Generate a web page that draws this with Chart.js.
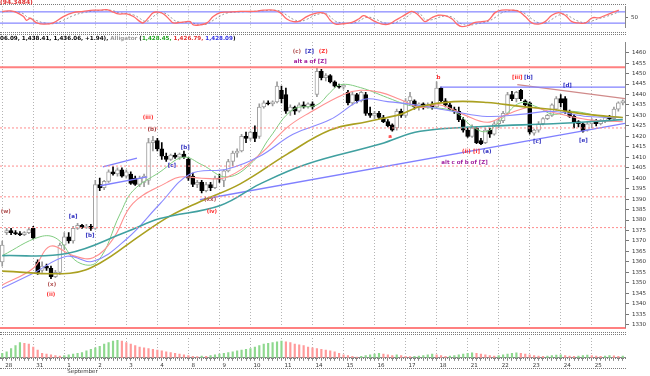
<!DOCTYPE html>
<html lang="en">
<head>
<meta charset="UTF-8">
<title>Chart</title>
<script src="https://cdn.jsdelivr.net/npm/chart.js"></script>
<style>
  body { margin: 0; background: #fff; }
  #wrap { position: relative; width: 650px; height: 376px; overflow: hidden; font-family: "DejaVu Sans", sans-serif; }
  .panel { position: absolute; left: 0; width: 650px; }
  .line { position: absolute; left: 0; width: 626px; height: 0; border-top: 1px dotted #7a7a7a; }
  .txt { position: absolute; font-weight: bold; white-space: nowrap; }
</style>
</head>
<body>
<div id="wrap">
  <div class="panel" style="top:0;height:34px"><canvas id="osc"></canvas></div>
  <div class="panel" style="top:34px;height:300px"><canvas id="price"></canvas></div>
  <div class="panel" style="top:336px;height:40px"><canvas id="hist"></canvas></div>

  <div class="line" style="top:4px"></div>
  <div class="line" style="top:32px"></div>
  <div class="line" style="top:34px"></div>
  <div class="line" style="top:332px"></div>
  <div class="line" style="top:334px"></div>
  <div class="line" style="top:358px"></div>
  <div class="line" style="top:368px"></div>

  <div class="txt" style="top:-2px;left:0;font-size:6px;color:#e03030">(94.3484)</div>
  <div class="txt" style="top:35px;left:0;font-size:5.6px;color:#000">06.09, 1,438.41, 1,436.06, +1.94), <span style="color:#9a9a9a">Alligator</span> (<span style="color:#20a020">1,428.45,</span> <span style="color:#e03030">1,426.79,</span> <span style="color:#3030e0">1,428.09</span>)</div>
</div>
<script>
  // candle index runs 0..140, seven hourly bars to a day
  const dayLabels = ['28', '31', '1', '2', '3', '4', '8', '9', '10', '11', '14', '15', '16', '17', '18', '21', '22', '23', '24', '25'];
  const dayStarts = [0, 7, 14, 21, 28, 35, 42, 49, 56, 63, 70, 77, 84, 91, 98, 105, 112, 119, 126, 133];
  const yTickValues = [1330, 1335, 1340, 1345, 1350, 1355, 1360, 1365, 1370, 1375, 1380, 1385, 1390, 1395,
    1400, 1405, 1410, 1415, 1420, 1425, 1430, 1435, 1440, 1445, 1450, 1455, 1460];

  const opens = [
    1360, 1374, 1375, 1374, 1373.5, 1373, 1374, 1376, 1360, 1356,
    1358, 1357, 1353, 1355, 1368, 1372, 1370, 1376, 1377.5, 1376.5,
    1377, 1376, 1397, 1395.5, 1398.5, 1403, 1402, 1404, 1401, 1402,
    1400, 1397, 1398, 1399, 1417, 1418, 1414, 1410.5, 1409, 1411,
    1410, 1411.5, 1409, 1401, 1397, 1398, 1394, 1397, 1395.5, 1400,
    1399, 1403.5, 1408, 1412, 1413, 1420, 1419, 1422, 1420, 1434,
    1436, 1435.5, 1436.5, 1442, 1440, 1432, 1434, 1432, 1435, 1434,
    1435.5, 1440, 1451, 1448, 1449, 1446, 1444, 1443.5, 1441, 1436,
    1440, 1437, 1440, 1431, 1430, 1431, 1429, 1427, 1425.5, 1424,
    1432, 1430, 1437, 1437, 1434, 1435.5, 1434, 1435, 1434, 1443,
    1437, 1435, 1433, 1432, 1428, 1423, 1420, 1424, 1418, 1417,
    1423, 1421, 1426, 1427.5, 1431, 1440, 1438, 1442, 1437, 1436,
    1421.5, 1423, 1426, 1428.5, 1430, 1433, 1438, 1438, 1432, 1429.5,
    1427, 1426, 1423, 1426, 1427.5, 1426, 1427.5, 1429, 1428.5, 1433,
    1436];
  const highs = [
    1370, 1376, 1376, 1375, 1374.5, 1374.5, 1376, 1377, 1361, 1360,
    1359, 1358, 1356, 1369, 1374, 1374, 1377, 1378.5, 1378, 1378,
    1378, 1399, 1400, 1399, 1404, 1405.5, 1405, 1405, 1404, 1403,
    1401, 1401, 1402, 1419, 1420, 1419, 1417, 1412, 1411.5, 1412,
    1412, 1413, 1410, 1402.5, 1399, 1399, 1398, 1398, 1401, 1402,
    1404, 1409, 1413, 1414, 1421, 1422, 1422.5, 1425, 1435.5, 1437,
    1437, 1437, 1446, 1444, 1443, 1435, 1434.5, 1436, 1436.5, 1436,
    1436.5, 1453, 1452, 1450, 1449.5, 1446.5, 1445, 1445, 1442, 1441,
    1440.5, 1441.5, 1441, 1434, 1432, 1432, 1430, 1428, 1426, 1433,
    1433, 1438, 1441, 1437.5, 1436, 1436, 1436, 1436.5, 1446, 1443.5,
    1438, 1436, 1434, 1434, 1429, 1424, 1425.5, 1424.5, 1419, 1424,
    1424, 1427, 1428.5, 1432, 1441, 1441.5, 1441.5, 1442.5, 1437.5, 1436.5,
    1423.5, 1427, 1429, 1430.5, 1435.5, 1439, 1440, 1439, 1432.5, 1430.5,
    1427.5, 1426.5, 1427, 1428.5, 1428, 1428, 1429.5, 1430, 1434, 1436.5,
    1437.5];
  const lows = [
    1358, 1373, 1373, 1373, 1372.5, 1372.5, 1373.5, 1371, 1354, 1355,
    1356, 1352, 1352.5, 1354, 1366, 1369, 1369, 1375.5, 1376, 1376,
    1375, 1375.5, 1394, 1394.5, 1398, 1401.5, 1401, 1400.5, 1400, 1397,
    1396.5, 1396, 1396, 1397, 1413, 1413, 1409, 1408, 1408.5, 1409.5,
    1409, 1409.5, 1399, 1396, 1395.5, 1393, 1393.5, 1394, 1395, 1398,
    1396, 1403, 1406, 1410, 1412.5, 1417, 1418, 1417.5, 1419, 1433.5,
    1435, 1434.5, 1436, 1436, 1431, 1430, 1430.5, 1431.5, 1433.5, 1433.5,
    1433, 1439, 1447, 1446.5, 1445.5, 1443.5, 1443, 1442.5, 1435, 1435,
    1436, 1436.5, 1430, 1429, 1428.5, 1428.5, 1426.5, 1424.5, 1422.5, 1423,
    1429, 1429, 1435, 1433, 1432.5, 1433, 1433.5, 1433, 1433.5, 1436.5,
    1434, 1432.5, 1431, 1427, 1422, 1419.5, 1419.5, 1416.5, 1416, 1416.5,
    1419.5, 1420.5, 1424, 1426.5, 1430.5, 1437, 1436.5, 1437, 1434, 1421,
    1420.5, 1422, 1425.5, 1428, 1429.5, 1432.5, 1434, 1431, 1429, 1424,
    1424.5, 1422, 1422.5, 1424, 1425, 1425.5, 1426.5, 1427.5, 1428, 1432,
    1435];
  const closes = [
    1368, 1375, 1374, 1373.5, 1373, 1374, 1375.5, 1371.5, 1355, 1358,
    1357, 1353, 1355, 1368, 1372, 1370, 1376, 1377.5, 1376.5, 1377,
    1376, 1397, 1395.5, 1398.5, 1403, 1402, 1404, 1401, 1403, 1397.5,
    1397, 1400, 1401, 1417, 1418, 1414, 1410.5, 1409, 1411, 1410,
    1411.5, 1410, 1400, 1397, 1398, 1394, 1397, 1395.5, 1400, 1399.5,
    1403.5, 1408, 1412, 1413, 1420, 1419, 1422, 1419, 1434, 1436,
    1435.5, 1436.5, 1444, 1438, 1432, 1434, 1432, 1435, 1434, 1435.5,
    1434, 1451, 1448, 1449, 1446, 1444, 1443.5, 1444.5, 1436, 1440,
    1437, 1441, 1431, 1430, 1431, 1429, 1427, 1425, 1423, 1432,
    1430, 1437, 1439, 1434, 1435.5, 1434, 1435, 1434, 1443, 1437,
    1435, 1433, 1432, 1428, 1423, 1420, 1424, 1417, 1416.5, 1423,
    1421, 1426, 1427.5, 1431, 1440, 1438, 1441, 1438, 1435, 1422,
    1423, 1426, 1428.5, 1430, 1435, 1438, 1436, 1432, 1429.5, 1427,
    1426, 1422.5, 1426, 1427.5, 1426, 1427.5, 1429, 1428.5, 1433, 1436,
    1437];

  // moving averages as [bar, price]
  const greenMA = [[0, 1363], [8.5, 1372], [12.4, 1371], [17, 1360], [21.4, 1360], [26.6, 1383], [29.5, 1394],
    [35.6, 1403], [40.8, 1410], [45, 1406.5], [50.8, 1400.6], [56.6, 1408], [60.4, 1419.5], [65.6, 1432.8],
    [71, 1435], [74, 1441], [76.3, 1444.7], [80.8, 1443.3], [86.9, 1438.5], [91.4, 1435], [94.3, 1434],
    [101.8, 1432], [106.3, 1424.3], [109.4, 1422.4], [113, 1429], [116.9, 1436], [120.7, 1434],
    [124.3, 1430.5], [128.2, 1432], [135.6, 1429.5], [140, 1429]];
  const redMA = [[0, 1349], [7, 1357], [10.8, 1367.5], [16, 1363], [20.5, 1362], [25, 1371], [29.5, 1388],
    [37.2, 1398], [40.1, 1400.6], [45, 1400], [50.8, 1400.6], [58.2, 1411.5], [64.3, 1424.3], [69.5, 1431.5],
    [77, 1440], [80.8, 1442], [85.3, 1441], [89.8, 1437.6], [94.3, 1433.8], [98.8, 1435], [104, 1430.5],
    [109.4, 1426.7], [113.9, 1430.5], [119, 1433.8], [124.3, 1431.4], [132, 1428], [140, 1427]];
  const blueMA = [[0, 1347.5], [7, 1354.6], [14.6, 1362.7], [20.5, 1360.3], [28.2, 1371.2], [35.6, 1387.8],
    [42.4, 1402], [50.8, 1404.4], [58.2, 1410.6], [65.6, 1421], [74, 1428], [81.4, 1437.6], [86.9, 1436.6],
    [92.7, 1435.2], [101.8, 1431.9], [109.4, 1429.5], [116.9, 1430.5], [124.3, 1431.9], [132, 1429.5], [140, 1429]];
  const oliveMA = [[0, 1355.6], [15.3, 1354.6], [22, 1359.4], [31.1, 1372.6], [37.9, 1382], [44.6, 1388.8],
    [53.7, 1397.3], [64.3, 1411.5], [74, 1423], [82.3, 1427], [89.8, 1430.5], [94.3, 1434.3], [101.8, 1436.6],
    [109.4, 1436.2], [116.9, 1434.3], [124.3, 1432.8], [132, 1430.5], [140, 1429]];
  const tealMA = [[0, 1363], [14.6, 1364], [28.2, 1374.5], [35.6, 1380.7], [49.2, 1387], [58.2, 1397.3],
    [68.8, 1406.8], [85.3, 1416.3], [94.3, 1422.4], [109.4, 1424.8], [124.3, 1426], [140, 1428]];

  // drawn lines
  const trendLine = [[44.6, 1389.7], [140.5, 1426.2]];
  const channelTop = [[22.7, 1405.4], [30.4, 1409.6]];
  const channelBottom = [[22.1, 1396.4], [32.7, 1400.6]];
  const topLine = [[98.8, 1443.5], [140.5, 1443.5]];
  const fallingLine = [[116.2, 1444.7], [140.5, 1438]];
  const redLevel = 1453;
  const dashedLevels = [1424, 1405.8, 1391.1, 1376.4];

  const waveLabels = [
    { t: '(c)', c: '#b05050', i: 66.5, v: 1460.3 },
    { t: '[Z]', c: '#3030c0', i: 69.3, v: 1460.3 },
    { t: '(Z)', c: '#ff3030', i: 72.4, v: 1460.3 },
    { t: 'alt a of [Z]', c: '#a020a0', i: 69.5, v: 1455.6 },
    { t: '(iii)', c: '#ff3030', i: 32.9, v: 1429 },
    { t: '(b)', c: '#a04040', i: 33.8, v: 1423.4 },
    { t: '[b]', c: '#3030c0', i: 41.3, v: 1414.8 },
    { t: '[c]', c: '#3030c0', i: 38.3, v: 1405.8 },
    { t: '(xx)', c: '#b05050', i: 46.9, v: 1389.8 },
    { t: '(iv)', c: '#ff3030', i: 47.3, v: 1384.2 },
    { t: '(w)', c: '#b05050', i: 0.8, v: 1384 },
    { t: '[a]', c: '#3030c0', i: 16, v: 1381.7 },
    { t: '[b]', c: '#3030c0', i: 19.8, v: 1372.7 },
    { t: '(x)', c: '#b05050', i: 11.2, v: 1349 },
    { t: '(ii)', c: '#ff3030', i: 11, v: 1344.2 },
    { t: 'a', c: '#ff3030', i: 87.5, v: 1420 },
    { t: 'b', c: '#ff3030', i: 98.4, v: 1448 },
    { t: '(ii)', c: '#ff3030', i: 104.7, v: 1412.5 },
    { t: '[i]', c: '#ff3030', i: 107, v: 1412.5 },
    { t: '(a)', c: '#3030c0', i: 109.4, v: 1412.5 },
    { t: 'alt c of b of [Z]', c: '#a020a0', i: 104.3, v: 1407.3 },
    { t: '[iii]', c: '#ff3030', i: 116.2, v: 1448 },
    { t: '[b]', c: '#3030c0', i: 118.7, v: 1448 },
    { t: '[d]', c: '#3030c0', i: 127.5, v: 1444.2 },
    { t: '[c]', c: '#3030c0', i: 120.7, v: 1417.7 },
    { t: '[e]', c: '#3030c0', i: 131.1, v: 1418.2 }
  ];

  // stochastic, read as bar position / value
  const oscPos = [0, 1.8, 3.3, 4.8, 5.5, 6.3, 7.0, 7.8, 9.3, 11.5, 13.8, 16.0, 18.3, 20.6, 22.1, 23.6, 25.1, 26.2,
    28.1, 29.6, 31.1, 31.8, 33.0, 34.1, 35.2, 36.4, 37.9, 38.6, 40.1, 41.6, 42.4, 43.1, 44.6, 46.2, 47.6, 49.2,
    50.7, 53.7, 56.7, 58.9, 61.2, 62.7, 64.2, 65.7, 67.2, 68.7, 70.2, 71.7, 72.9, 74.0, 75.2, 77.4, 78.9, 80.4,
    81.5, 82.6, 84.2, 85.7, 87.2, 88.7, 90.2, 91.7, 92.4, 93.6, 94.7, 95.4, 96.9, 98.4, 99.9, 101.5, 102.6, 103.7,
    105.2, 106.7, 108.2, 109.7, 111.2, 112.7, 115, 116.5, 118, 119.5, 121, 122.5, 124, 125.5, 127, 128.5, 130,
    131.6, 133.1, 134.6, 136.1, 137.6, 139.1];
  const oscK = [82.5, 85, 76, 55, 35, 46, 35, 21, 14.5, 21, 55, 76, 82.5, 89, 89, 92, 78.5, 69, 69, 55, 28, 21,
    48.5, 76, 78.5, 69, 35, 21, 24, 28, 28, 10.5, 10.5, 21, 55, 76, 78.5, 82.5, 82.5, 89, 89, 76, 42, 28, 32, 55,
    69, 76, 69, 35, 14.5, 18, 24, 42, 59.5, 48.5, 28, 14.5, 14.5, 35, 55, 76, 82.5, 69, 42, 28, 48.5, 62, 59.5,
    42, 14.5, 1, 8, 24, 28, 35, 76, 89, 89, 82.5, 55, 21, 14.5, 28, 62, 76, 62, 28, 21, 21, 48.5, 48.5, 62, 76, 89];
  const oscD = [80, 83, 81, 70, 55, 45, 40, 33, 22, 17, 35, 60, 76, 84, 88, 90, 86, 76, 70, 64, 45, 32, 32, 55,
    72, 75, 55, 38, 25, 25, 27, 20, 13, 15, 35, 58, 74, 80, 83, 86, 89, 84, 62, 40, 30, 40, 58, 70, 72, 55, 30,
    20, 20, 30, 45, 52, 42, 25, 18, 22, 40, 60, 74, 76, 60, 40, 38, 50, 58, 52, 32, 15, 8, 14, 22, 30, 50, 75,
    88, 86, 70, 42, 22, 20, 40, 62, 68, 48, 30, 22, 32, 44, 54, 66, 80];

  // lower histogram, one bar per candle
  const histValues = [
    3, 4, 6, 8, 10, 9.5, 9, 7, 5, 3,
    2.5, 2, 1.5, 1.2, 1.5, 2, 2.5, 3, 3.5, 4.5,
    5.5, 6.5, 7.5, 9, 10, 11, 11.5, 11, 10, 9,
    8, 7, 6.5, 6, 5.5, 5, 4.5, 4, 3.5, 3,
    2.5, 2, 1.5, 1, 0.8, 1.2, 1, 1.5, 2, 2.5,
    3, 3.5, 4, 4.5, 5, 5.5, 6, 7, 8, 9,
    9.5, 10, 10.5, 11, 10.5, 10, 9, 8.5, 8, 7,
    6.5, 6, 5.5, 5, 4.5, 4, 3, 2, 1.5, 1,
    0.5, 1, 1.5, 2, 2.5, 3, 2.5, 2, 1.5, 2,
    1.5, 1, 0.8, 1, 1.2, 1.5, 2, 2.5, 2, 1.5,
    1, 1.2, 1.5, 2, 2.5, 3, 3.2, 3, 2.5, 2,
    1.5, 1.2, 1.5, 2, 2.5, 3, 3.2, 3, 2.5, 2,
    1.5, 1.2, 1, 1.2, 1.5, 1.8, 2, 1.5, 1.2, 1,
    1.2, 1.5, 1.8, 1.5, 1.2, 1, 1.2, 1.5, 1.3, 1,
    1.2];

  Chart.defaults.font.family = 'DejaVu Sans';
  Chart.defaults.animation = false;
  Chart.defaults.plugins.legend.display = false;
  Chart.defaults.plugins.tooltip.enabled = false;

  const pts = arr => arr.map(p => ({ x: p[0], y: p[1] }));
  const flat = v => [{ x: -0.5, y: v }, { x: 140.5, y: v }];
  const isUp = i => closes[i] >= opens[i];

  const waveText = {
    id: 'waveText',
    afterDatasetsDraw(chart, args, opts) {
      if (!opts.items) return;
      const { ctx, scales: { x, y } } = chart;
      ctx.save();
      ctx.font = 'bold 5.5px "DejaVu Sans"';
      ctx.textAlign = 'center';
      ctx.textBaseline = 'middle';
      opts.items.forEach(l => {
        ctx.fillStyle = l.c;
        ctx.fillText(l.t, x.getPixelForValue(l.i), y.getPixelForValue(l.v));
      });
      ctx.restore();
    }
  };

  const lineSet = (data, color, width, extra) => Object.assign({
    type: 'line', data: data, borderColor: color, borderWidth: width, pointRadius: 0, tension: 0.4, order: 1
  }, extra || {});

  const xBase = {
    type: 'linear', min: -0.5, max: 140.5, offset: false,
    afterBuildTicks: s => { s.ticks = dayStarts.map(v => ({ value: v })); },
    ticks: { display: false },
    grid: { offset: false, color: '#b4b4b4', drawTicks: false, tickLength: 0 },
    border: { display: false, dash: [1, 2] }
  };

  // oscillator panel
  new Chart(document.getElementById('osc'), {
    type: 'line',
    data: {
      datasets: [
        lineSet(flat(80), '#6a6aff', 1, { tension: 0 }),
        lineSet(flat(20), '#6a6aff', 1, { tension: 0 }),
        lineSet(oscPos.map((p, k) => ({ x: p, y: oscD[k] })), '#9a9a9a', 1, { borderDash: [2, 2] }),
        lineSet(oscPos.map((p, k) => ({ x: p, y: oscK[k] })), '#ff6a6a', 1.3, { order: 0 })
      ]
    },
    options: {
      responsive: true, maintainAspectRatio: false,
      layout: { padding: { top: 5, bottom: 1 } },
      scales: {
        x: xBase,
        y: {
          position: 'right', min: -4.5, max: 109.8,
          afterBuildTicks: s => { s.ticks = [{ value: 50 }]; },
          afterFit: s => { s.width = 25; },
          ticks: { font: { size: 5.5 }, color: '#333', padding: 3, callback: v => String(v) },
          grid: { drawOnChartArea: false, tickLength: 3, color: '#777' },
          border: { color: '#888' }
        }
      }
    }
  });

  // price panel
  const idx = opens.map((_, i) => i);
  new Chart(document.getElementById('price'), {
    type: 'bar',
    data: {
      datasets: [
        {
          data: idx.map(i => ({ x: i, y: [lows[i], highs[i]] })),
          barThickness: 1, grouped: false, order: 6,
          backgroundColor: c => isUp(c.dataIndex) ? '#9a9a9a' : '#000'
        },
        {
          data: idx.map(i => ({ x: i, y: [Math.min(opens[i], closes[i]), Math.max(opens[i], closes[i])] })),
          barThickness: 4, grouped: false, order: 5, borderSkipped: false, borderWidth: 1,
          backgroundColor: c => isUp(c.dataIndex) ? '#fff' : '#000',
          borderColor: c => isUp(c.dataIndex) ? '#a0a0a0' : '#000'
        },
        lineSet(flat(redLevel), '#ff8080', 2, { tension: 0 }),
        ...dashedLevels.map(v => lineSet(flat(v), '#ff8c8c', 1, { tension: 0, borderDash: [2, 2] })),
        lineSet(pts(tealMA), '#40a0a0', 1.6),
        lineSet(pts(oliveMA), '#aaa020', 1.6),
        lineSet(pts(blueMA), '#8a8aff', 1.1),
        lineSet(pts(redMA), '#ff9090', 1.1),
        lineSet(pts(greenMA), '#80cc80', 1),
        lineSet(pts(trendLine), '#8080ff', 1.3, { tension: 0 }),
        lineSet(pts(channelTop), '#8080ff', 1.3, { tension: 0 }),
        lineSet(pts(channelBottom), '#8080ff', 1.3, { tension: 0 }),
        lineSet(pts(topLine), '#8080ff', 1.3, { tension: 0 }),
        lineSet(pts(fallingLine), '#d08a8a', 1.3, { tension: 0 })
      ]
    },
    options: {
      responsive: true, maintainAspectRatio: false,
      layout: { padding: { top: 8, bottom: 3 } },
      plugins: { waveText: { items: waveLabels } },
      scales: {
        x: Object.assign({}, xBase, { border: { display: true, color: '#ff8080', width: 2, dash: [1, 2] } }),
        y: {
          position: 'right', min: 1328.58, max: 1465.07,
          afterBuildTicks: s => { s.ticks = yTickValues.map(v => ({ value: v })); },
          afterFit: s => { s.width = 25; },
          ticks: { font: { size: 5.5 }, color: '#333', padding: 3, autoSkip: false, callback: v => String(v) },
          grid: { drawOnChartArea: false, tickLength: 4, color: '#777' },
          border: { color: '#888' }
        }
      }
    },
    plugins: [waveText]
  });

  // histogram panel with the date axis
  new Chart(document.getElementById('hist'), {
    type: 'bar',
    data: {
      datasets: [{
        data: histValues.map((v, i) => ({ x: i, y: v })),
        barThickness: 1.5,
        backgroundColor: c => (c.dataIndex === 0 || histValues[c.dataIndex] >= histValues[c.dataIndex - 1]) ? '#8ed88e' : '#ff9a9a'
      }]
    },
    options: {
      responsive: true, maintainAspectRatio: false,
      layout: { padding: { top: 2, right: 25 } },
      scales: {
        x: {
          type: 'linear', min: -0.5, max: 140.5, offset: false,
          afterBuildTicks: s => { s.ticks = idx.map(v => ({ value: v })); },
          ticks: {
            autoSkip: false, maxRotation: 0, align: 'start', labelOffset: 3, padding: 1,
            font: { size: 5.5 }, color: '#333',
            callback: v => {
              const k = dayStarts.indexOf(v);
              if (k < 0) return '';
              return k === 2 ? [dayLabels[k], 'September'] : dayLabels[k];
            }
          },
          grid: {
            offset: false, tickLength: 3, tickColor: '#888',
            color: c => dayStarts.includes(c.tick && c.tick.value) ? '#b4b4b4' : 'rgba(0,0,0,0)'
          },
          border: { display: true, color: '#888', dash: [1, 2] }
        },
        y: { display: false, min: 0, max: 13 }
      }
    }
  });
</script>
</body>
</html>
